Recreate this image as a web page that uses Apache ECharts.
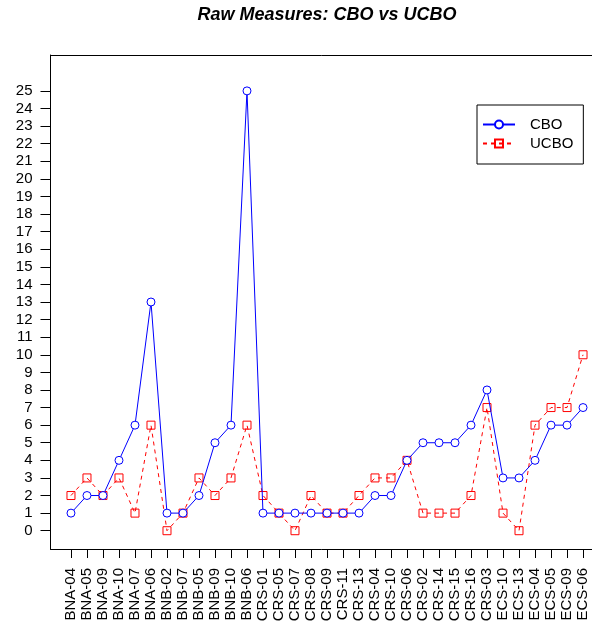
<!DOCTYPE html>
<html>
<head>
<meta charset="utf-8">
<script src="https://cdn.jsdelivr.net/npm/echarts@6/dist/echarts.min.js"></script>
<style>
  html, body { margin: 0; padding: 0; background: #fff; }
  #chart { width: 592px; height: 630px; }
</style>
</head>
<body>
<div id="chart"></div>
<script>
// Site codes along the horizontal axis
const categories = [
  'BNA-04', 'BNA-05', 'BNA-09', 'BNA-10', 'BNA-07', 'BNA-06',
  'BNB-02', 'BNB-07', 'BNB-05', 'BNB-09', 'BNB-10', 'BNB-06',
  'CRS-01', 'CRS-05', 'CRS-07', 'CRS-08', 'CRS-09', 'CRS-11', 'CRS-13',
  'CRS-04', 'CRS-10', 'CRS-06', 'CRS-02', 'CRS-14', 'CRS-15', 'CRS-16', 'CRS-03',
  'ECS-10', 'ECS-13', 'ECS-04', 'ECS-05', 'ECS-09', 'ECS-06'
];

// Raw measure values per site
const cbo = [1, 2, 2, 4, 6, 13, 1, 1, 2, 5, 6, 25, 1, 1, 1, 1, 1, 1, 1, 2, 2, 4, 5, 5, 5, 6, 8, 3, 3, 4, 6, 6, 7];
const ucbo = [2, 3, 2, 3, 1, 6, 0, 1, 3, 2, 3, 6, 2, 1, 0, 2, 1, 1, 2, 3, 3, 4, 1, 1, 1, 2, 7, 1, 0, 6, 7, 7, 10];

// Tick labels on the value axis
const yTicks = [0, 1, 2, 3, 4, 5, 6, 7, 8, 9, 10, 11, 12, 13, 14, 15, 16, 17, 18, 19, 20, 21, 22, 23, 24, 25];

const xIdx = categories.map((_, i) => i);
const FONT = '"Liberation Sans", Arial, Helvetica, sans-serif';

// Plot frame: 4% padding around the index range; the frame runs past the
// right edge of the canvas, so the visible part ends at the canvas border.
const GRID_LEFT = 50.5;
const GRID_WIDTH = 592 - GRID_LEFT;
const pad = 0.04 * (categories.length - 1);
const fullSpan = categories.length - 1 + 2 * pad;
const pxPerUnit = 553 / fullSpan;
const xMin = -pad;
const xMax = xMin + GRID_WIDTH / pxPerUnit;

const chart = echarts.init(document.getElementById('chart'), null, { renderer: 'canvas' });

chart.setOption({
  animation: false,
  backgroundColor: '#ffffff',
  graphic: [{
    type: 'text',
    x: 327,
    y: 15,
    style: {
      text: 'Raw Measures: CBO vs UCBO',
      font: 'italic bold 18px ' + FONT,
      fill: '#000',
      align: 'center',
      verticalAlign: 'middle'
    }
  }],
  grid: {
    left: GRID_LEFT,
    top: 55,
    width: GRID_WIDTH,
    height: 494,
    show: false
  },
  legend: {
    orient: 'vertical',
    left: 477,
    top: 105,
    padding: [12, 10, 13, 5],
    itemGap: 4,
    itemWidth: 32,
    itemHeight: 10,
    borderColor: '#000',
    borderWidth: 1,
    borderRadius: 0,
    textStyle: { fontFamily: FONT, fontSize: 15, color: '#000', padding: [0, 0, 0, 10] },
    data: ['CBO', 'UCBO']
  },
  xAxis: [{
    type: 'value',
    min: xMin,
    max: xMax,
    position: 'bottom',
    axisLine: { show: true, onZero: false, lineStyle: { color: '#000', width: 1 } },
    splitLine: { show: false },
    axisTick: {
      show: true,
      inside: false,
      length: 9,
      customValues: xIdx,
      lineStyle: { color: '#000', width: 1 }
    },
    axisLabel: {
      show: true,
      customValues: xIdx,
      rotate: 90,
      margin: 19,
      fontFamily: FONT,
      fontSize: 15,
      color: '#000',
      formatter: v => categories[Math.round(v)]
    }
  }, {
    // top edge of the frame
    type: 'value',
    min: xMin,
    max: xMax,
    position: 'top',
    axisLine: { show: true, onZero: false, lineStyle: { color: '#000', width: 1 } },
    axisTick: { show: false },
    axisLabel: { show: false },
    splitLine: { show: false }
  }],
  yAxis: {
    type: 'value',
    min: -1.04,
    max: 27.04,
    axisLine: { show: true, onZero: false, lineStyle: { color: '#000', width: 1 } },
    splitLine: { show: false },
    axisTick: {
      show: true,
      inside: false,
      length: 10,
      customValues: yTicks,
      lineStyle: { color: '#000', width: 1 }
    },
    axisLabel: {
      show: true,
      customValues: yTicks,
      margin: 18,
      fontFamily: FONT,
      fontSize: 15,
      color: '#000'
    }
  },
  series: [
    {
      name: 'CBO',
      type: 'line',
      data: cbo.map((v, i) => [i, v]),
      symbol: 'circle',
      symbolSize: 8,
      showAllSymbol: true,
      itemStyle: { color: '#ffffff', borderColor: '#0000ff', borderWidth: 1 },
      lineStyle: { color: '#0000ff', width: 1 },
      color: '#0000ff',
      z: 3
    },
    {
      name: 'UCBO',
      type: 'line',
      data: ucbo.map((v, i) => [i, v]),
      symbol: 'rect',
      symbolSize: 8,
      showAllSymbol: true,
      itemStyle: { color: 'rgba(255,255,255,0)', borderColor: '#ff0000', borderWidth: 1 },
      lineStyle: { color: '#ff0000', width: 1, type: [4, 4] },
      color: '#ff0000',
      z: 2
    }
  ]
});
</script>
</body>
</html>
